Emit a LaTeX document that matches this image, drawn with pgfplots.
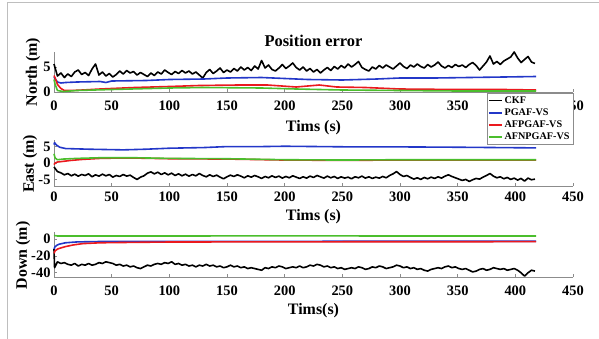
\documentclass[border=0pt]{standalone}
\usepackage{fontspec}
\setmainfont{Liberation Serif}
\usepackage{pgfplots}
\pgfplotsset{compat=1.18}
\definecolor{cblue}{RGB}{35,55,200}
\definecolor{cred}{RGB}{235,25,30}
\definecolor{cgreen}{RGB}{75,190,45}
\definecolor{frame}{RGB}{190,190,190}
\pgfplotsset{
  myaxis/.style={
    scale only axis, width=519bp, xmin=0, xmax=450, xtick={0,50,...,450},
    axis x line*=bottom, axis y line*=left, tick align=inside,
    axis line style={black!45, line width=0.6bp}, major tick style={black!45, line width=0.6bp},
    major tick length=3bp,
    tick label style={font=\fontsize{14.5}{16}\selectfont\bfseries},
    label style={font=\fontsize{16}{18}\selectfont\bfseries},
    /pgf/number format/assume math mode=true,
    every axis plot/.append style={line width=1.6bp, line join=round},
    clip=false,
  }
}
\begin{document}
\begin{tikzpicture}
\path[use as bounding box] (0,0) rectangle (599bp,-339bp);
\draw[frame, line width=1bp] (7bp,-339bp) -- (7bp,-2bp) -- (599bp,-2bp);
% ---------------- North ----------------
\begin{axis}[myaxis, at={(54bp,-92bp)}, anchor=south west, height=40bp,
  ymin=0, ymax=8, ytick={0,5},
  title={Position error}, title style={font=\fontsize{16.5}{18}\selectfont\bfseries, yshift=-4bp},
  xlabel={Tims (s)}, ylabel={North (m)},
  xticklabel style={yshift=-5bp},
  xlabel style={at={(axis description cs:0.5,0)}, anchor=center, yshift=-36bp},
  ylabel style={at={(axis description cs:-0.0405,0.5)}, anchor=center},
  legend cell align=left,
  legend style={at={(1,0)}, anchor=north east, yshift=-1bp, draw=black!45, fill=white,
    font=\fontsize{10.2}{12}\selectfont\bfseries, inner sep=1.3bp, row sep=0bp,
    /tikz/every even column/.append style={column sep=0bp}},
  legend image code/.code={\draw[#1, line width=1.6bp] (0bp,0bp) -- (13bp,0bp);},
]
\addplot[black] coordinates {(0,5.6)(3,3.2)(6,3.8)(9,2.9)(12,3.6)(15,3.1)(18,4.0)(21,4.4)(24,3.5)(27,3.9)(30,3.3)(33,4.6)(36,5.6)(39,3.4)(42,4.0)(45,3.2)(48,3.7)(51,3.0)(54,3.5)(57,4.2)(60,3.6)(63,4.3)(66,3.8)(69,4.1)(72,3.4)(75,3.9)(78,3.5)(81,3.1)(84,3.8)(87,3.3)(90,4.0)(93,3.6)(96,4.4)(99,3.9)(102,3.5)(105,4.1)(108,3.7)(111,4.3)(114,3.8)(117,4.2)(120,3.6)(123,4.0)(126,3.4)(129,2.8)(132,3.9)(135,4.5)(138,3.7)(141,4.2)(144,4.8)(147,3.9)(150,4.4)(153,4.0)(156,4.7)(159,4.2)(162,5.0)(165,4.4)(168,4.9)(171,4.3)(174,5.2)(177,4.6)(180,6.3)(183,4.8)(186,5.4)(189,4.5)(192,4.2)(195,4.8)(198,5.5)(201,4.7)(204,5.2)(207,5.8)(210,4.9)(213,4.4)(216,5.0)(219,4.2)(222,4.7)(225,4.0)(228,4.5)(231,3.8)(234,4.4)(237,4.9)(240,4.3)(243,5.1)(246,4.6)(249,5.3)(252,4.8)(255,5.6)(258,5.0)(261,5.5)(264,6.1)(267,4.9)(270,4.5)(273,4.2)(276,5.0)(279,4.6)(282,5.3)(285,4.8)(288,5.4)(291,5.0)(294,4.6)(297,5.2)(300,5.8)(303,5.1)(306,4.7)(309,5.4)(312,5.0)(315,5.6)(318,5.1)(321,4.8)(324,5.5)(327,5.0)(330,5.4)(333,6.0)(336,5.2)(339,4.8)(342,5.3)(345,4.9)(348,5.5)(351,5.1)(354,5.4)(357,4.9)(360,5.5)(363,5.9)(366,5.3)(369,4.4)(372,5.2)(375,6.0)(378,7.2)(381,5.6)(384,6.1)(387,5.5)(390,6.2)(393,6.6)(396,7.0)(399,8.0)(402,6.8)(405,5.9)(408,6.5)(411,7.1)(414,6.0)(417,5.7)};
\addlegendentry{CKF}
\addplot[cblue] coordinates {(0,3.0)(1,2.6)(3,2.0)(6,1.8)(10,1.9)(20,2.0)(40,2.1)(45,1.9)(50,2.2)(80,2.3)(100,2.5)(130,2.6)(150,2.8)(180,2.9)(200,2.7)(220,2.5)(250,2.4)(280,2.6)(300,2.8)(330,2.8)(360,2.9)(390,3.0)(418,3.1)};
\addlegendentry{PGAF-VS}
\addplot[cred] coordinates {(0,3.3)(1,2.8)(3,1.5)(6,0.7)(9,0.3)(15,0.3)(25,0.4)(40,0.6)(70,0.9)(100,1.1)(126,1.3)(160,1.4)(185,1.4)(210,1.0)(230,1.4)(245,1.0)(270,0.9)(300,0.6)(350,0.5)(390,0.5)(418,0.4)};
\addlegendentry{AFPGAF-VS}
\addplot[cgreen] coordinates {(0,2.5)(1,1.5)(3,0.3)(8,0.1)(20,0.3)(50,0.5)(100,0.8)(130,0.9)(180,0.8)(210,0.6)(250,0.4)(300,0.3)(350,0.2)(418,0.2)};
\addlegendentry{AFNPGAF-VS}
\end{axis}
% ---------------- East ----------------
\begin{axis}[myaxis, at={(54bp,-186bp)}, anchor=south west, height=46bp,
  ymin=-7, ymax=7, ytick={-5,0,5},
  xlabel={Tims (s)}, ylabel={East (m)},
  xticklabel style={yshift=-2bp},
  xlabel style={at={(axis description cs:0.5,0)}, anchor=center, yshift=-31bp},
  ylabel style={at={(axis description cs:-0.046,0.48)}, anchor=center},
]
\addplot[black] coordinates {(0,-1.2)(3,-2.6)(6,-3.0)(9,-3.6)(12,-3.2)(15,-3.9)(18,-3.4)(21,-4.0)(24,-3.5)(27,-3.8)(30,-3.3)(33,-4.2)(36,-3.6)(39,-4.0)(42,-3.4)(45,-3.9)(48,-3.5)(51,-4.3)(54,-3.8)(57,-4.1)(60,-3.5)(63,-4.0)(66,-3.7)(69,-4.4)(72,-5.0)(75,-4.3)(78,-3.9)(81,-3.1)(84,-2.7)(87,-3.3)(90,-2.8)(93,-3.5)(96,-3.0)(99,-3.6)(102,-3.1)(105,-3.8)(108,-3.3)(111,-3.9)(114,-3.4)(117,-4.0)(120,-3.5)(123,-3.9)(126,-3.2)(129,-3.8)(132,-4.2)(135,-3.6)(138,-4.1)(141,-3.7)(144,-4.3)(147,-4.8)(150,-4.2)(153,-3.7)(156,-4.1)(159,-3.6)(162,-4.0)(165,-4.5)(168,-3.9)(171,-4.3)(174,-3.8)(177,-4.2)(180,-4.7)(183,-4.1)(186,-4.5)(189,-3.9)(192,-4.4)(195,-4.0)(198,-4.6)(201,-4.1)(204,-4.5)(207,-3.9)(210,-4.3)(213,-4.7)(216,-4.2)(219,-4.6)(222,-4.0)(225,-4.4)(228,-3.8)(231,-4.2)(234,-4.6)(237,-4.0)(240,-4.5)(243,-4.1)(246,-4.7)(249,-4.2)(252,-4.6)(255,-4.3)(258,-4.8)(261,-4.2)(264,-4.5)(267,-4.0)(270,-4.6)(273,-4.2)(276,-4.7)(279,-4.3)(282,-4.6)(285,-4.1)(288,-4.5)(291,-3.8)(294,-3.3)(297,-2.6)(300,-3.5)(303,-4.1)(306,-3.8)(309,-4.4)(312,-4.9)(315,-4.5)(318,-5.0)(321,-4.4)(324,-4.8)(327,-4.3)(330,-4.7)(333,-4.2)(336,-4.6)(339,-4.0)(342,-3.6)(345,-4.1)(348,-4.5)(351,-4.9)(354,-5.3)(357,-5.0)(360,-5.6)(363,-5.1)(366,-4.7)(369,-4.9)(372,-4.3)(375,-3.8)(378,-3.2)(381,-4.0)(384,-4.5)(387,-4.2)(390,-4.8)(393,-4.4)(396,-5.0)(399,-4.6)(402,-5.2)(405,-4.7)(408,-5.5)(411,-4.6)(414,-5.1)(417,-4.9)};
\addplot[cblue] coordinates {(0,5.6)(0.5,6.2)(2,5.5)(5,4.8)(10,4.4)(30,4.2)(60,4.0)(80,4.2)(100,4.5)(130,4.7)(150,5.0)(180,5.0)(200,5.1)(230,5.0)(260,4.9)(300,4.9)(350,4.8)(418,4.6)};
\addplot[cred] coordinates {(0,-0.5)(1,0.0)(3,0.3)(8,0.5)(15,0.8)(25,1.1)(40,1.4)(55,1.5)(70,1.5)(100,1.3)(150,1.2)(200,0.9)(250,0.8)(300,0.9)(350,0.9)(418,0.9)};
\addplot[cgreen] coordinates {(0,2.8)(1,1.5)(3,1.0)(8,1.2)(20,1.4)(40,1.6)(70,1.6)(100,1.4)(150,1.3)(200,1.0)(250,0.9)(300,1.0)(350,1.0)(418,1.0)};
\end{axis}
% ---------------- Down ----------------
\begin{axis}[myaxis, at={(54bp,-277bp)}, anchor=south west, height=44.8bp,
  ymin=-45, ymax=8, ytick={-40,-20,0},
  xlabel={Tims(s)}, ylabel={Down (m)},
  xticklabel style={yshift=-5bp},
  xlabel style={at={(axis description cs:0.5,0)}, anchor=center, yshift=-34bp},
  ylabel style={at={(axis description cs:-0.0597,0.48)}, anchor=center},
]
\addplot[black] coordinates {(0,-12)(0.5,-34)(3,-27)(6,-29)(9,-28)(12,-30)(15,-31)(18,-29)(21,-32)(24,-30)(27,-31)(30,-29)(33,-31)(36,-30)(39,-28)(42,-29)(45,-27)(48,-28)(51,-29)(54,-31)(57,-30)(60,-32)(63,-31)(66,-33)(69,-32)(72,-34)(75,-35)(78,-33)(81,-31)(84,-32)(87,-30)(90,-29)(93,-30)(96,-28)(99,-29)(102,-27)(105,-30)(108,-29)(111,-31)(114,-30)(117,-32)(120,-31)(123,-33)(126,-31)(129,-32)(132,-30)(135,-32)(138,-31)(141,-33)(144,-32)(147,-34)(150,-33)(153,-31)(156,-33)(159,-32)(162,-34)(165,-33)(168,-35)(171,-34)(174,-35)(177,-36)(180,-37)(183,-34)(186,-35)(189,-33)(192,-34)(195,-32)(198,-33)(201,-35)(204,-34)(207,-33)(210,-34)(213,-32)(216,-34)(219,-33)(222,-31)(225,-32)(228,-30)(231,-31)(234,-33)(237,-32)(240,-34)(243,-33)(246,-35)(249,-34)(252,-36)(255,-35)(258,-34)(261,-35)(264,-33)(267,-34)(270,-36)(273,-35)(276,-33)(279,-34)(282,-32)(285,-33)(288,-35)(291,-34)(294,-33)(297,-31)(300,-32)(303,-34)(306,-33)(309,-35)(312,-34)(315,-36)(318,-35)(321,-37)(324,-38)(327,-36)(330,-35)(333,-34)(336,-35)(339,-33)(342,-32)(345,-34)(348,-33)(351,-35)(354,-36)(357,-35)(360,-37)(363,-39)(366,-38)(369,-36)(372,-35)(375,-37)(378,-36)(381,-34)(384,-35)(387,-36)(390,-35)(393,-37)(396,-36)(399,-35)(402,-37)(405,-40)(408,-44)(411,-40)(414,-37)(417,-38)};
\addplot[cblue] coordinates {(0,-12)(1,-9)(3,-7)(5,-6)(10,-4.5)(20,-3.5)(40,-3)(100,-2.8)(418,-2.7)};
\addplot[cred] coordinates {(0,-17)(1,-14)(3,-12)(5,-11)(10,-9)(17,-7)(25,-5.5)(40,-4.5)(70,-4)(100,-3.6)(200,-3.4)(300,-3.3)(418,-3.2)};
\addplot[cgreen] coordinates {(0,4.2)(3,3.5)(100,3.5)(200,3.7)(300,3.5)(418,3.5)};
\end{axis}
\end{tikzpicture}
\end{document}
